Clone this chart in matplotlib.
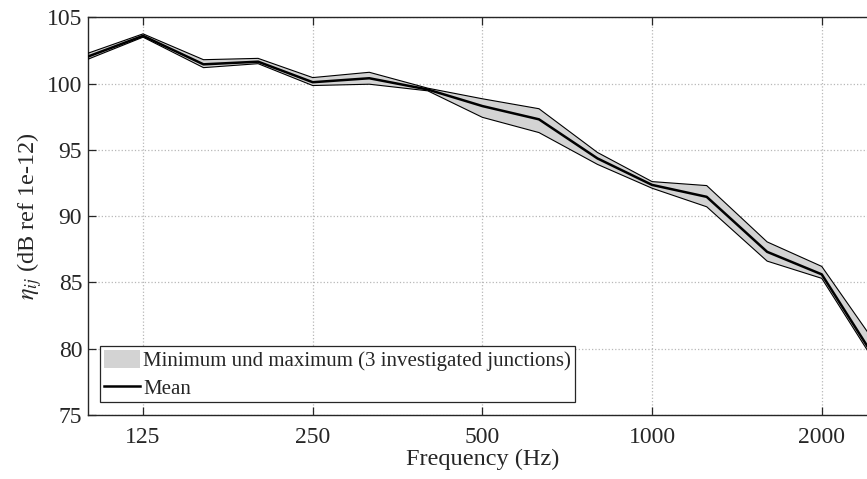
import matplotlib
matplotlib.use("Agg")
import matplotlib.pyplot as plt
from matplotlib.patches import Patch
from matplotlib.lines import Line2D

plt.rcParams['font.family'] = ['Liberation Serif', 'DejaVu Serif']
plt.rcParams['mathtext.fontset'] = 'stix'

freqs = [100, 125, 160, 200, 250, 315, 400, 500, 630, 800, 1000, 1250, 1600, 2000, 2500]
mean_vals = [102.05, 103.6, 101.45, 101.65, 100.1, 100.4, 99.55, 98.3, 97.3, 94.35, 92.35, 91.45, 87.3, 85.6, 79.1]
min_vals = [101.85, 103.5, 101.2, 101.5, 99.85, 99.95, 99.45, 97.45, 96.3, 93.9, 92.1, 90.7, 86.6, 85.3, 78.8]
max_vals = [102.3, 103.75, 101.8, 101.9, 100.45, 100.85, 99.65, 98.85, 98.1, 94.8, 92.6, 92.3, 88.05, 86.2, 80.3]

xticks = [125, 250, 500, 1000, 2000]
xtick_labels = ['125', '250', '500', '1000', '2000']
yticks = [75, 80, 85, 90, 95, 100, 105]

fig = plt.figure(figsize=(8.67, 4.79), dpi=100)
ax = fig.add_axes([0.102, 0.134, 0.9088, 0.8299])

ax.fill_between(freqs, min_vals, max_vals, facecolor='#d3d3d3', edgecolor='none', zorder=2)
ax.plot(freqs, min_vals, color='black', lw=0.8, zorder=3)
ax.plot(freqs, max_vals, color='black', lw=0.8, zorder=3)
ax.plot(freqs, mean_vals, color='black', lw=1.8, zorder=4)

ax.set_xscale('log')
ax.set_xlim(100, 2500)
ax.set_ylim(75, 105)
ax.set_xticks(xticks)
ax.set_xticklabels(xtick_labels)
ax.minorticks_off()
ax.set_yticks(yticks)

ax.grid(True, which='major', color='#b8b8b8', linestyle=':', linewidth=0.9, zorder=0)
ax.set_axisbelow(True)
ax.tick_params(axis='both', direction='in', length=6, width=0.9, labelsize=17,
               top=True, right=True, colors='#262626')
ax.tick_params(axis='x', pad=9)
ax.tick_params(axis='y', pad=4.5)
for s in ax.spines.values():
    s.set_linewidth(1.0)
    s.set_color('#262626')

ax.set_xlabel('Frequency (Hz)', fontsize=17.5, color='#262626', labelpad=0)
ax.set_ylabel(r'$\eta_{ij}$ (dB ref 1e-12)', fontsize=17.5, color='#262626', labelpad=2)

handles = [Patch(facecolor='#d3d3d3', edgecolor='none'),
           Line2D([], [], color='black', lw=1.8)]
labels = ['Minimum und maximum (3 investigated junctions)', 'Mean']
leg = ax.legend(handles, labels, loc='lower left', bbox_to_anchor=(0.0147, 0.031),
                borderaxespad=0, fancybox=False, framealpha=1, edgecolor='#262626',
                fontsize=15, handlelength=1.75, handletextpad=0.15, labelspacing=0.3,
                borderpad=0.18, handleheight=1.0)
leg.get_frame().set_linewidth(0.9)
for t in leg.get_texts():
    t.set_color('#262626')

fig.savefig('out.png', dpi=100)
